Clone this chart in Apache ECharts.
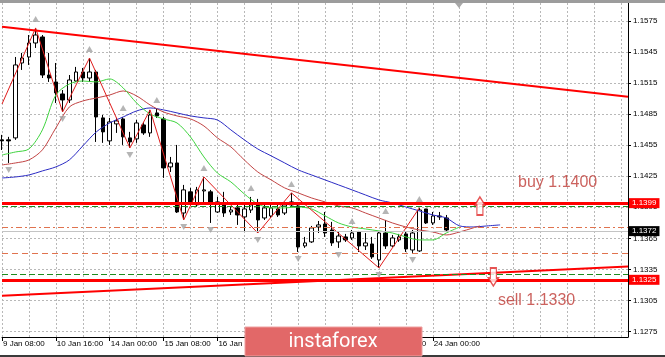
<!DOCTYPE html>
<html><head><meta charset="utf-8">
<script src="https://cdn.jsdelivr.net/npm/echarts@6/dist/echarts.min.js"></script>
<style>html,body{margin:0;padding:0;background:#fff}#c{width:665px;height:357px}</style>
</head><body><div id="c"></div>
<script>
// ---- data ----
const tickLabels = ['9 Jan 08:00','10 Jan 16:00','14 Jan 00:00','15 Jan 08:00','16 Jan 16:00','18 Jan 00:00','21 Jan 08:00','22 Jan 16:00','24 Jan 00:00'];
const priceTicks = [1.1275,1.1305,1.1335,1.1365,1.1395,1.1425,1.1455,1.1485,1.1515,1.1545,1.1575];
const barCount = 94; // visible H4 slots incl. future space

// [open, close, low, high]
const ohlc = [
 [1.14601,1.14591,1.14503,1.14649],[1.14601,1.14591,1.14378,1.14630],[1.14620,1.15324,1.14601,1.15401],
 [1.15343,1.15391,1.15276,1.15440],[1.15401,1.15536,1.15324,1.15613],[1.15536,1.15613,1.15488,1.15681],
 [1.15594,1.15227,1.15198,1.15613],[1.15227,1.15198,1.15160,1.15440],[1.15160,1.15054,1.14957,1.15343],
 [1.15044,1.14986,1.14870,1.15082],[1.14986,1.15179,1.14957,1.15227],[1.15169,1.15256,1.15160,1.15305],
 [1.15256,1.15198,1.15160,1.15295],[1.15198,1.15256,1.15160,1.15391],[1.15256,1.14822,1.14581,1.15276],
 [1.14813,1.14678,1.14572,1.14841],[1.14591,1.14774,1.14552,1.14813],[1.14755,1.14784,1.14668,1.14813],
 [1.14803,1.14630,1.14552,1.14822],[1.14620,1.14581,1.14523,1.14678],[1.14610,1.14764,1.14572,1.14793],
 [1.14745,1.14668,1.14649,1.14774],[1.14668,1.14841,1.14630,1.14890],[1.14861,1.14832,1.14813,1.14899],
 [1.14803,1.14330,1.14234,1.14822],[1.14340,1.14378,1.14291,1.14436],[1.14378,1.13905,1.13895,1.14552],
 [1.13895,1.14118,1.13828,1.14166],[1.14099,1.14002,1.13973,1.14137],[1.13973,1.14118,1.13953,1.14147],
 [1.14108,1.14118,1.13973,1.14243],[1.14099,1.13992,1.13799,1.14118],[1.13905,1.14002,1.13895,1.14050],
 [1.13992,1.13895,1.13857,1.14099],[1.13905,1.13924,1.13876,1.13963],[1.13944,1.13876,1.13780,1.13992],
 [1.13857,1.13934,1.13712,1.13973],[1.13924,1.13973,1.13895,1.14050],[1.13973,1.13828,1.13702,1.14031],
 [1.13847,1.13944,1.13828,1.13992],[1.13866,1.13944,1.13847,1.13982],[1.13934,1.13876,1.13857,1.13973],
 [1.13895,1.13973,1.13876,1.14002],[1.14002,1.13973,1.13953,1.14089],[1.13963,1.13567,1.13519,1.13982],
 [1.13577,1.13606,1.13558,1.13664],[1.13616,1.13751,1.13606,1.13770],[1.13760,1.13780,1.13702,1.13818],
 [1.13789,1.13702,1.13664,1.13905],[1.13731,1.13606,1.13577,1.13809],[1.13616,1.13673,1.13558,1.13712],
 [1.13664,1.13635,1.13616,1.13693],[1.13654,1.13702,1.13635,1.13731],[1.13712,1.13577,1.13519,1.13722],
 [1.13577,1.13606,1.13538,1.13702],[1.13596,1.13471,1.13452,1.13664],[1.13442,1.13702,1.13365,1.13712],
 [1.13702,1.13577,1.13548,1.13828],[1.13577,1.13654,1.13567,1.13683],[1.13635,1.13664,1.13616,1.13693],
 [1.13693,1.13548,1.13519,1.13712],[1.13538,1.13702,1.13510,1.13731],[1.13529,1.13924,1.13519,1.13944],
 [1.13934,1.13799,1.13789,1.13934],[1.13799,1.13866,1.13780,1.13905],[1.13866,1.13857,1.13828,1.13905],
 [1.13847,1.13731,1.13712,1.13876]
];

// Alligator lines [bar index, price]
const jaw = [[0,1.14233],[2,1.14243],[4,1.14262],[6,1.14301],[8,1.14340],[10,1.14407],[12,1.14542],[14,1.14677],[16,1.14764],[18,1.14822],[20,1.14880],[22,1.14909],[24,1.14890],[26,1.14861],[28,1.14832],[30,1.14813],[32,1.14793],[34,1.14697],[36,1.14601],[38,1.14513],[40,1.14446],[42,1.14378],[44,1.14311],[46,1.14262],[48,1.14214],[50,1.14166],[52,1.14118],[54,1.14069],[56,1.14021],[58,1.13992],[60,1.13953],[62,1.13915],[64,1.13876],[66,1.13847],[68,1.13770],[70,1.13760],[72,1.13770],[74,1.13780]];
const teeth = [[0,1.14359],[2,1.14378],[4,1.14407],[6,1.14504],[8,1.14716],[10,1.14918],[12,1.14976],[14,1.15005],[16,1.15034],[18,1.15073],[20,1.15025],[22,1.14938],[24,1.14870],[26,1.14832],[28,1.14803],[30,1.14735],[32,1.14620],[34,1.14533],[36,1.14407],[38,1.14291],[40,1.14214],[42,1.14137],[44,1.14089],[46,1.14040],[48,1.14002],[50,1.13963],[52,1.13944],[54,1.13895],[56,1.13847],[58,1.13799],[60,1.13760],[62,1.13731],[64,1.13712],[66,1.13683],[68,1.13712],[70,1.13751],[71,1.13770]];
const lips = [[0,1.14455],[2,1.14484],[4,1.14513],[6,1.14697],[8,1.15034],[10,1.15140],[12,1.15169],[14,1.15160],[16,1.15189],[18,1.15102],[20,1.14957],[22,1.14851],[24,1.14803],[26,1.14764],[28,1.14629],[30,1.14436],[32,1.14281],[34,1.14195],[36,1.14079],[38,1.13982],[40,1.13944],[42,1.13944],[44,1.13953],[46,1.13934],[48,1.13867],[50,1.13799],[52,1.13760],[54,1.13741],[56,1.13722],[58,1.13702],[60,1.13664],[62,1.13635],[64,1.13635],[66,1.13702],[68,1.13760]];
const zigzag = [[0,1.14947],[5,1.15681],[9,1.14870],[13,1.15391],[19,1.14523],[22,1.14890],[27,1.13828],[30,1.14243],[38,1.13702],[43,1.14089],[56,1.13365],[62,1.13944]];

const fractalUp = [5,13,18,23,30,37,43,52,57,62];
const fractalDown = [1,9,19,27,31,38,44,50,56,61];

const trendDown = [[0,1.15693],[93,1.15018]];
const trendUp = [[0,1.13095],[93,1.13378]];

const buyLevel = 1.1399;
const sellLevel = 1.1325;
const bidPrice = 1.1372;
const greenLevels = [1.13963, 1.13307];
const orangeDashDot = [1.13756];
const orangeDash = [1.13507];

const buyArrow = [[71, 1.13963]];
const sellArrow = [[73, 1.13278]];
const notes = [{name:'buy 1.1400', value:[76, 1.14185]}, {name:'sell 1.1330', value:[73, 1.13046]}];

// ---- chart ----
const categories = Array.from({length: barCount}, (_, i) => 'b' + i);
const labelAt = i => i % 8 === 0 && i / 8 < tickLabels.length;
const FONT = 'Liberation Sans, Arial, sans-serif';

const boxLabel = (txt, bg) => ({show:true, position:'end', formatter:txt, backgroundColor:bg, color:'#fff',
  padding:[1,3,1,3], fontSize:8, fontFamily:FONT, distance:1});

const markLines = [
  {yAxis: bidPrice, lineStyle:{color:'#c4c4c4', width:1, type:'solid'}, label: boxLabel(bidPrice.toFixed(4), '#000')},
  ...greenLevels.map(v => ({yAxis:v, lineStyle:{color:'#1e8c1e', width:1, type:[6,3]}, label:{show:false}})),
  ...orangeDashDot.map(v => ({yAxis:v, lineStyle:{color:'#e0734f', width:1, type:[6,3,2,3]}, label:{show:false}})),
  ...orangeDash.map(v => ({yAxis:v, lineStyle:{color:'#e0734f', width:1, type:[6,4]}, label:{show:false}})),
  {yAxis: buyLevel, lineStyle:{color:'#ff0000', width:3, type:'solid'}, label: boxLabel(buyLevel.toFixed(4), '#ff0000')},
  {yAxis: sellLevel, lineStyle:{color:'#ff0000', width:3, type:'solid'}, label: boxLabel(sellLevel.toFixed(4), '#ff0000')}
];

const chart = echarts.init(document.getElementById('c'), null, {renderer:'canvas'});
chart.setOption({
  animation:false,
  backgroundColor:'#ffffff',
  textStyle:{fontFamily:FONT},
  grid:{left:-1, right:37, top:3, bottom:20},
  xAxis:{type:'category', data:categories, boundaryGap:false,
    axisLine:{show:true, onZero:false, lineStyle:{color:'#000', width:1}},
    axisTick:{show:true, interval:(i)=>labelAt(i), length:4, lineStyle:{color:'#000'}},
    axisLabel:{show:true, interval:(i)=>labelAt(i), formatter:(v,i)=>tickLabels[i/8]||'', fontSize:8, color:'#000', align:'left', margin:3, fontFamily:FONT, padding:[0,0,0,1]},
    splitLine:{show:true, interval:(i)=> i % 4 === 0, lineStyle:{color:'#b8b8b8', type:[2,2], width:1}}
  },
  yAxis:{type:'value', position:'right', min:1.12698, max:1.15922,
    axisLine:{show:true, lineStyle:{color:'#000', width:1}},
    axisTick:{show:true, customValues:priceTicks, length:3, lineStyle:{color:'#000'}},
    axisLabel:{show:true, customValues:priceTicks, formatter:v=>v.toFixed(4), fontSize:8, color:'#000', margin:5, fontFamily:FONT},
    splitLine:{show:true, lineStyle:{color:'#b8b8b8', type:[2,2], width:1}}
  },
  series:[
    {type:'candlestick', data:ohlc, barWidth:4, z:2,
      itemStyle:{color:'#ffffff', color0:'#000000', borderColor:'#000000', borderColor0:'#000000', borderWidth:1}},
    {type:'line', data:jaw, smooth:0.3, symbol:'none', z:3, lineStyle:{color:'#2b2bc4', width:1}},
    {type:'line', data:teeth, smooth:0.3, symbol:'none', z:3, lineStyle:{color:'#c24444', width:1}},
    {type:'line', data:lips, smooth:0.3, symbol:'none', z:3, lineStyle:{color:'#3fd43f', width:1}},
    {type:'line', data:zigzag, smooth:false, symbol:'none', z:3, lineStyle:{color:'#e01c1c', width:1}},
    {type:'line', data:trendDown, symbol:'none', z:4, lineStyle:{color:'#ff0000', width:2},
      markLine:{silent:true, precision:6, symbol:['none','none'], animation:false, data:markLines}},
    {type:'line', data:trendUp, symbol:'none', z:4, lineStyle:{color:'#ff0000', width:2}},
    {type:'scatter', data:fractalUp.map(i=>[i, ohlc[i][3]]), symbol:'triangle', symbolSize:[7,6], symbolOffset:[0,-9], z:5,
      itemStyle:{color:'#a3a3a3'}},
    {type:'scatter', data:fractalDown.map(i=>[i, ohlc[i][2]]), symbol:'triangle', symbolRotate:180, symbolSize:[7,6], symbolOffset:[0,7], z:5,
      itemStyle:{color:'#a3a3a3'}},
    {type:'scatter', data:buyArrow, symbol:'path://M5,0 L10,8 L8,8 L8,18 L2,18 L2,8 L0,8 Z', symbolSize:[10,18], z:6,
      itemStyle:{color:'#ffffff', borderColor:'#e02828', borderWidth:1.5}},
    {type:'scatter', data:sellArrow, symbol:'path://M5,0 L10,8 L8,8 L8,18 L2,18 L2,8 L0,8 Z', symbolRotate:180, symbolSize:[10,18], z:6,
      itemStyle:{color:'#ffffff', borderColor:'#e02828', borderWidth:1.5}},
    {type:'scatter', data:notes, symbolSize:1, z:6, itemStyle:{color:'rgba(0,0,0,0)'},
      label:{show:true, position:'right', distance:4, formatter:p=>p.name, fontSize:16, color:'#bf3b36', fontFamily:FONT}}
  ],
  graphic:[
    {type:'rect', z:100, shape:{x:0,y:0,width:665,height:3}, style:{fill:'#9c9c9c'}},
    {type:'polygon', z:100, shape:{points:[[455,3],[463,3],[459,8]]}, style:{fill:'#a8a8a8'}},
    {type:'rect', z:100, shape:{x:0,y:355,width:665,height:2}, style:{fill:'#3a3a3a'}},
    {type:'rect', z:101, shape:{x:245,y:327,width:177,height:29}, style:{fill:'#e26868', stroke:'#eea0a0', lineWidth:1}},
    {type:'text', z:102, x:333, y:342, style:{text:'instaforex', fill:'#ffffff', font:'20px Roboto, sans-serif', align:'center', verticalAlign:'middle'}}
  ]
});
</script></body></html>
